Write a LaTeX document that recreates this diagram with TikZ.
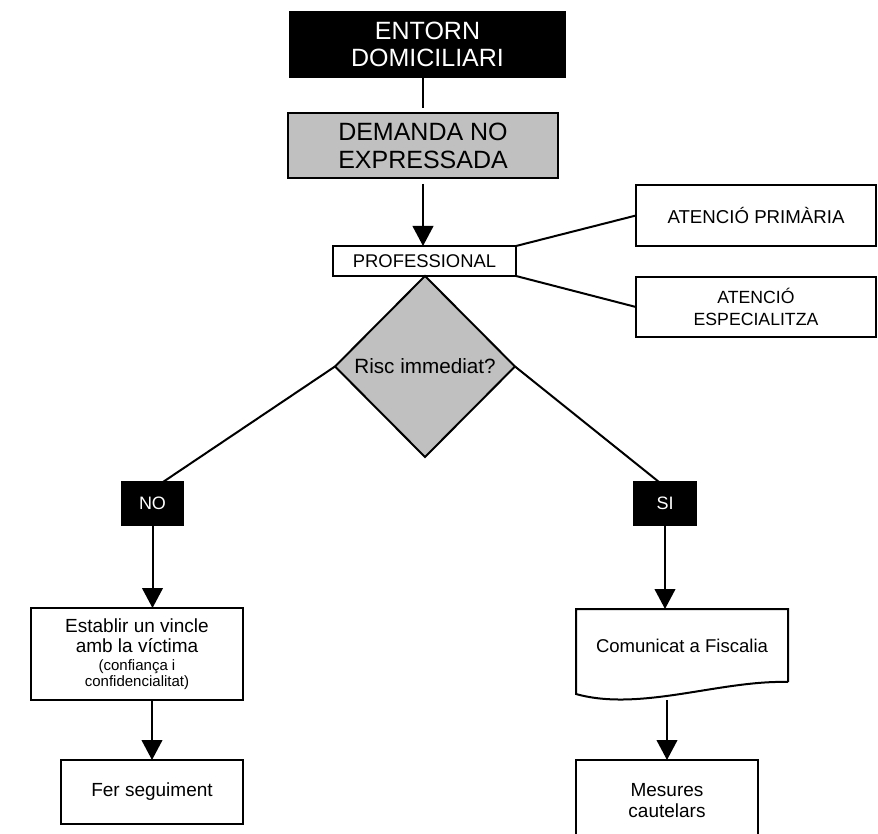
\documentclass[tikz,border=0pt]{standalone}
\usepackage{fontspec}
\setmainfont{Liberation Sans}
\usetikzlibrary{shapes.geometric,arrows.meta,calc}
\definecolor{boxgray}{RGB}{192,192,192}
\newcommand{\fsz}[2]{\fontsize{#1}{#2}\selectfont}

\begin{document}
\begin{tikzpicture}[x=0.75pt,y=-0.75pt,
  every node/.style={line width=1.5pt, inner sep=0pt, outer sep=0pt},
  box/.style={draw=black, fill=white, rectangle, align=center, text=black},
  darkbox/.style={box, fill=black, text=white},
  graybox/.style={box, fill=boxgray},
  link/.style={line width=1.5pt, draw=black},
  flow/.style={link, -{Triangle[width=15.5pt,length=15pt]}},
]
\useasboundingbox (0,0) rectangle (878,834);
\clip (0,0) rectangle (878,834);

% top of the flow
\node[darkbox, minimum width=206.25pt, minimum height=48.75pt,
      font=\fsz{18.75}{20.25}] (entorn) at (427.5,44.5) {ENTORN\\DOMICILIARI};
\node[graybox, minimum width=202.5pt, minimum height=48.75pt,
      font=\fsz{18.75}{21}] (demanda) at (423,145.5) {DEMANDA NO\\EXPRESSADA};
\node[box, minimum width=137.25pt, minimum height=22.5pt,
      font=\fsz{13.8}{16}] (professional) at (424.5,261) {PROFESSIONAL};

% care levels
\node[box, minimum width=180pt, minimum height=45.75pt,
      font=\fsz{14}{17}] (prim) at (756,215.5) {ATENCIÓ PRIMÀRIA};
\node[box, minimum width=180pt, minimum height=45pt,
      font=\fsz{13.25}{17}] (espec) at (756,307) {ATENCIÓ\\ESPECIALITZA};

% decision
\node[diamond, draw=black, fill=boxgray, minimum width=135pt, minimum height=135.75pt,
      font=\fsz{15.5}{18}] (risc) at (425,366.5) {Risc immediat?};

\node[darkbox, minimum width=45.75pt, minimum height=32.25pt,
      font=\fsz{13.5}{16}] (no) at (152.5,503.5) {NO};
\node[darkbox, minimum width=46.5pt, minimum height=32.25pt,
      font=\fsz{13.5}{16}] (si) at (665,503.5) {SI};

% left branch
\node[box, minimum width=159pt, minimum height=69pt,
      font=\fsz{14.25}{15}] (establir) at (137,654)
      {Establir un vincle\\amb la víctima\\[-1pt]{\fsz{11.25}{9.75}(confiança i}\\[-3pt]{\fsz{11.25}{9.75}confidencialitat)}};
\node[box, minimum width=136.5pt, minimum height=48pt,
      font=\fsz{14.25}{16}] (fer) at (152,792) {Fer seguiment};

% right branch
\node[rectangle, align=center, minimum width=159pt, minimum height=54.75pt,
      font=\fsz{13.9}{16}] (comunicat) at (682,645.5) {Comunicat a Fiscalia};
\draw[link] (comunicat.south east) -- (comunicat.north east) -- (comunicat.north west)
  -- ($(comunicat.south west)+(0,12)$)
  .. controls +(64,18) and +(-68,-2) .. (comunicat.south east);
\coordinate (docfoot) at ($(comunicat.south)+(-15,18)$);
\node[box, minimum width=136.5pt, minimum height=61.5pt,
      font=\fsz{14.25}{15.75}] (mesures) at (667,801) {Mesures\\cautelars};

% connectors
\draw[link, shorten >=3.75pt] (entorn.south -| demanda.north) -- (demanda.north);
\draw[flow, shorten <=4.5pt] (demanda.south) -- (demanda.south |- professional.north);
\draw[link] (professional.north east) -- (prim.west);
\draw[link] (professional.south east) -- (espec.west);
\draw[link] (risc.west) -- ($(no.north)+(10.5,0)$);
\draw[link] (risc.east) -- ($(si.north)+(-6,0)$);
\draw[flow] (no.south) -- (no.south |- establir.north);
\draw[flow] (establir.south -| fer.north) -- (fer.north);
\draw[flow] (si.south) -- (si.south |- comunicat.north);
\draw[flow] (docfoot) -- (docfoot |- mesures.north);
\end{tikzpicture}
\end{document}
